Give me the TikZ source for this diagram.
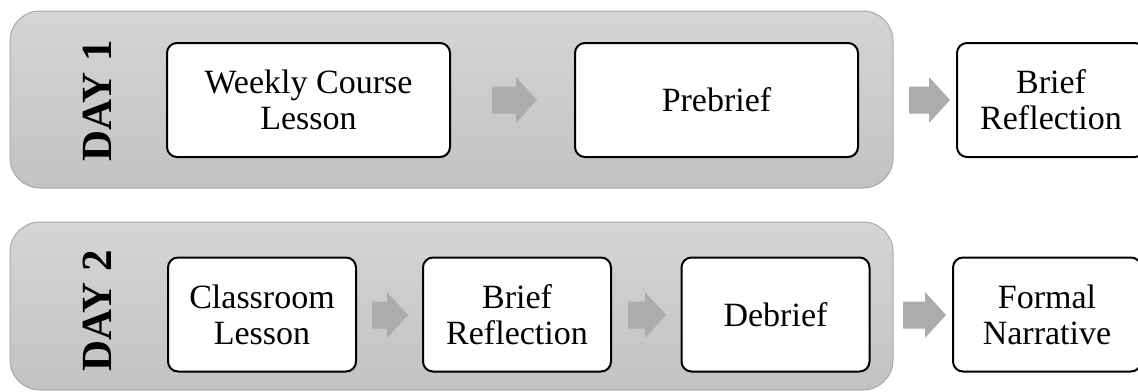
\documentclass[tikz,border=0pt]{standalone}
\usepackage{fontspec}
\setmainfont{Liberation Serif}
\usetikzlibrary{calc}

\definecolor{paneltop}{HTML}{D5D5D5}
\definecolor{panelbottom}{HTML}{C2C2C2}
\definecolor{panelrim}{HTML}{A9A9A9}
\definecolor{arrowfill}{HTML}{ACACAC}

% block arrow: name, left x, right x, centre y (all in px units)
\newcommand\blockarrow[4]{%
  \coordinate (#1) at ({(#2+#3)/2},#4);
  \fill[arrowfill] (#2,{#4-13.5}) -- ({#3-21},{#4-13.5}) -- ({#3-21},{#4-23})
    -- (#3,#4) -- ({#3-21},{#4+23}) -- ({#3-21},{#4+13.5}) -- (#2,{#4+13.5}) -- cycle;}

\begin{document}
\begin{tikzpicture}[x=0.5pt,y=-0.5pt,
  panel/.style={draw=panelrim,line width=0.5pt,rounded corners=15pt,
    top color=paneltop,bottom color=panelbottom},
  daylabel/.style={rotate=90,font=\fontsize{21.5}{24}\selectfont\bfseries,inner sep=0pt},
  stepbox/.style={draw=black,line width=1pt,fill=white,rounded corners=5pt,
    minimum height=57pt,align=center,inner sep=0pt,
    font=\fontsize{17}{18}\selectfont},
  wide/.style={stepbox,minimum width=141.5pt},
  narrow/.style={stepbox,minimum width=94pt}]

\clip (0,0) rectangle (1138,391);

% day panels
\path[panel] (10,11) rectangle (893,188);
\path[panel] (10,222) rectangle (893,390);

\node[daylabel] (day1) at (97,101) {DAY 1};
\node[daylabel] (day2) at (97,311) {DAY 2};

% day 1 steps
\node[wide]   (weekly)   at (308.5,100) {Weekly Course\\Lesson};
\node[wide]   (prebrief) at (716.5,100) {Prebrief};
\node[narrow] (reflect1) at (1051,100)  {Brief\\Reflection};

% day 2 steps
\node[narrow] (classroom) at (262,314.5)  {Classroom\\Lesson};
\node[narrow] (reflect2)  at (517,314.5)  {Brief\\Reflection};
\node[narrow] (debrief)   at (775.5,314.5){Debrief};
\node[narrow] (narrative) at (1047,314.5) {Formal\\Narrative};

% arrows between steps
\blockarrow{a1}{492}{537}{100}
\blockarrow{a2}{909}{950}{100}
\blockarrow{a3}{372}{408}{315}
\blockarrow{a4}{628}{666}{315}
\blockarrow{a5}{903}{946}{315}
\end{tikzpicture}
\end{document}
